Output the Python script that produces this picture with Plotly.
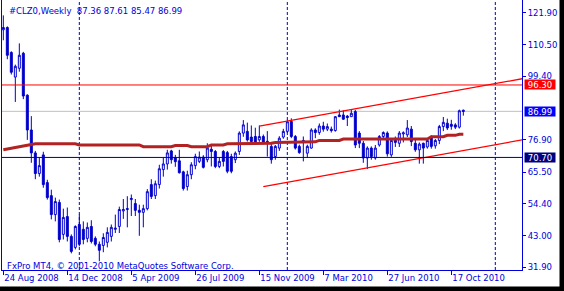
import plotly.graph_objects as go
import pandas as pd

symbol = "#CLZ0,Weekly"
first_week = "2008-08-24"

opens = [115.8, 116.6, 107.8, 99.1, 102.2, 107.5, 92.7, 80.4, 72.3, 65.0,
         71.6, 61.8, 57.2, 50.5, 54.8, 43.5, 49.8, 42.8, 38.9, 47.0,
         45.3, 42.1, 46.3, 42.1, 40.0, 39.6, 40.7, 42.8, 45.3, 46.3,
         51.8, 52.3, 55.8, 54.4, 52.0, 51.3, 52.6, 61.1, 57.2, 61.1,
         66.4, 68.4, 73.0, 70.6, 69.5, 65.6, 60.4, 64.6, 67.8, 69.3,
         70.8, 69.9, 73.6, 72.8, 67.5, 72.8, 72.4, 71.0, 69.9, 72.8,
         79.3, 79.9, 77.9, 78.1, 76.9, 78.1, 76.4, 74.6, 71.0, 74.0,
         77.9, 79.9, 83.4, 78.1, 74.6, 76.7, 72.2, 74.0, 80.4, 79.5,
         81.8, 80.7, 80.7, 80.2, 85.7, 85.7, 85.3, 85.1, 86.9, 79.3,
         75.7, 70.5, 74.0, 70.5, 75.1, 78.1, 79.3, 71.6, 77.0, 75.7,
         79.0, 78.7, 80.7, 75.7, 73.4, 75.7, 74.4, 77.9, 74.8, 76.7,
         81.6, 82.8, 82.4, 82.2, 81.4, 87.36]
highs = [120.9, 117.0, 108.2, 103.5, 111.0, 108.0, 93.0, 85.3, 73.0, 70.6,
         72.7, 62.8, 59.3, 56.5, 55.8, 52.6, 53.0, 43.5, 46.7, 50.5,
         48.1, 47.7, 48.5, 42.8, 41.0, 43.9, 46.0, 47.0, 50.5, 53.3,
         56.0, 57.0, 57.6, 56.0, 54.0, 54.0, 59.5, 63.0, 62.5, 68.1,
         70.6, 73.4, 73.4, 71.6, 73.4, 66.0, 66.0, 69.0, 72.0, 72.8,
         71.5, 75.7, 75.1, 73.3, 70.5, 73.3, 73.0, 72.0, 72.8, 79.9,
         83.9, 83.0, 82.0, 81.2, 82.0, 78.8, 80.0, 76.0, 75.1, 78.2,
         80.8, 84.0, 84.5, 78.6, 75.2, 78.1, 75.2, 81.0, 81.0, 82.7,
         83.3, 82.7, 81.6, 85.3, 87.6, 87.3, 85.7, 87.5, 87.5, 80.0,
         76.5, 74.6, 74.6, 75.1, 78.6, 79.9, 79.9, 77.0, 78.1, 80.0,
         79.9, 83.9, 81.8, 77.0, 76.0, 75.9, 77.0, 78.5, 77.2, 82.2,
         85.0, 84.4, 84.0, 82.8, 87.6, 87.61]
lows = [112.1, 105.4, 100.0, 90.3, 101.0, 91.3, 76.9, 68.8, 63.0, 63.9,
        60.0, 55.8, 48.8, 48.1, 40.7, 41.7, 41.0, 36.8, 38.2, 39.3,
        40.0, 40.7, 40.3, 39.3, 34.0, 37.2, 38.9, 41.0, 44.0, 44.0,
        49.0, 46.0, 50.0, 50.0, 43.0, 46.0, 52.0, 56.0, 56.0, 59.7,
        63.9, 66.4, 68.5, 67.4, 65.0, 59.0, 59.0, 63.0, 66.5, 68.7,
        66.8, 69.0, 67.5, 66.9, 66.9, 67.5, 65.1, 65.1, 68.7, 71.6,
        78.0, 76.3, 75.7, 75.5, 76.2, 75.3, 71.0, 68.5, 69.9, 73.0,
        77.3, 79.3, 77.5, 73.5, 72.0, 69.3, 70.5, 73.8, 77.5, 78.7,
        79.8, 80.0, 79.5, 79.8, 85.0, 84.0, 81.8, 85.0, 74.0, 74.0,
        68.8, 66.6, 69.9, 69.9, 74.5, 76.9, 71.0, 70.9, 74.4, 74.4,
        76.0, 77.9, 74.7, 72.7, 68.5, 68.5, 73.8, 73.8, 73.8, 75.4,
        80.0, 80.4, 80.5, 80.7, 80.9, 85.47]
closes = [116.6, 106.8, 100.8, 102.9, 106.8, 92.4, 80.4, 72.3, 65.0, 67.8,
          61.1, 56.5, 50.5, 55.1, 41.7, 49.5, 42.8, 37.5, 46.3, 40.0,
          41.7, 46.0, 41.0, 40.0, 37.9, 42.4, 44.2, 46.0, 45.7, 52.3,
          52.3, 52.6, 56.2, 52.0, 51.3, 52.6, 58.6, 56.9, 61.4, 66.7,
          68.4, 72.3, 69.9, 69.2, 65.3, 59.7, 64.6, 68.1, 71.0, 70.8,
          67.2, 74.0, 72.8, 67.5, 69.3, 69.3, 65.8, 65.8, 72.2, 79.3,
          82.2, 76.9, 76.3, 75.7, 78.1, 75.7, 75.8, 69.9, 74.6, 77.5,
          79.9, 83.3, 78.1, 74.0, 72.4, 76.0, 74.6, 80.4, 79.5, 81.8,
          80.7, 81.6, 80.2, 85.1, 85.1, 84.2, 84.8, 86.3, 75.1, 75.7,
          70.5, 74.0, 71.0, 74.0, 78.1, 79.5, 72.0, 76.7, 76.0, 79.3,
          79.4, 81.1, 76.3, 73.4, 75.4, 74.0, 76.7, 74.6, 76.7, 81.6,
          83.1, 81.1, 81.7, 81.4, 87.2, 86.99]
moving_avg = [73.4, 73.7, 74.0, 74.3, 74.6, 74.9, 75.1, 75.3, 75.5, 75.5,
              75.5, 75.5, 75.5, 75.5, 75.5, 75.5, 75.5, 75.5, 75.5, 75.1,
              75.1, 75.1, 75.1, 75.1, 75.1, 75.1, 75.1, 75.1, 75.1, 75.1,
              75.1, 75.1, 75.1, 75.1, 75.1, 74.5, 74.5, 74.5, 74.5, 74.5,
              74.5, 74.5, 74.5, 74.9, 74.9, 74.9, 74.9, 74.5, 74.5, 74.5,
              74.5, 74.5, 75.1, 75.1, 75.1, 75.1, 75.5, 75.5, 75.5, 75.5,
              75.5, 75.5, 75.7, 75.7, 75.7, 75.7, 75.7, 75.7, 76.0, 76.0,
              76.0, 76.2, 76.2, 76.2, 76.2, 76.2, 76.2, 76.2, 76.2, 76.7,
              76.7, 76.7, 76.7, 76.7, 76.7, 77.2, 77.2, 77.2, 77.2, 77.2,
              77.2, 77.2, 77.2, 77.2, 77.2, 77.2, 77.2, 77.2, 77.2, 77.2,
              77.2, 77.2, 77.2, 77.2, 77.2, 77.2, 77.2, 78.0, 78.0, 78.0,
              78.0, 78.5, 78.5, 78.5, 78.9, 78.9]

price_ticks = [121.90, 110.50, 99.40, 76.90, 65.50, 54.40, 43.00, 31.90]
levels = [96.30, 86.99, 70.70]
level_line_colors = ["#FF0000", "#C0C0C0", "#000080"]
level_box_colors = ["#FF0000", "#0000FF", "#000080"]
year_starts = [19, 71, 123]
upper_channel_x = [64, 129.7]
upper_channel_y = [81.8, 98.5]
lower_channel_x = [65, 129.7]
lower_channel_y = [60.4, 76.9]
copyright_text = "FxPro MT4, © 2001-2010 MetaQuotes Software Corp."

BLUE = "#0000DD"
CANDLE = "#0000CC"
FONT = "DejaVu Sans"

n = len(opens)
idx = list(range(n))
dates = pd.date_range(first_week, periods=n, freq="7D")
tick_idx = list(range(0, n, 16))
tick_labels = [f"{dates[i].day} {dates[i].strftime('%b %Y')}" for i in tick_idx]

W, H = 564, 291
ML, MR, MT, MB = 2, 42, 0, 21
PW, PH = W - ML - MR, H - MT - MB

fig = go.Figure()
fig.add_trace(go.Candlestick(
    x=idx, open=opens, high=highs, low=lows, close=closes,
    increasing=dict(line=dict(color=CANDLE, width=1), fillcolor="white"),
    decreasing=dict(line=dict(color=CANDLE, width=1), fillcolor=CANDLE),
    whiskerwidth=0, showlegend=False, hoverinfo="skip"))
fig.add_trace(go.Scatter(x=idx, y=moving_avg, mode="lines",
                         line=dict(color="#B22222", width=3), showlegend=False, hoverinfo="skip"))
fig.add_trace(go.Scatter(x=upper_channel_x, y=upper_channel_y, mode="lines",
                         line=dict(color="#FF0000", width=1.3), showlegend=False, hoverinfo="skip"))
fig.add_trace(go.Scatter(x=lower_channel_x, y=lower_channel_y, mode="lines",
                         line=dict(color="#FF0000", width=1.3), showlegend=False, hoverinfo="skip"))

shapes = []
for ys in year_starts:
    shapes.append(dict(type="line", xref="x", yref="paper", x0=ys, x1=ys, y0=0, y1=1,
                       line=dict(color="#0000CC", width=1, dash="3px,2px"), layer="below"))
for lv, lc in zip(levels, level_line_colors):
    shapes.append(dict(type="line", xref="paper", yref="y", x0=0, x1=1, y0=lv, y1=lv,
                       line=dict(color=lc, width=1), layer="below" if lc == "#C0C0C0" else "above"))
# black screen border at right and bottom
shapes.append(dict(type="rect", xref="paper", yref="paper",
                   x0=(559.5 - ML) / PW, x1=(W + 10 - ML) / PW, y0=-0.2, y1=1.1,
                   fillcolor="black", line=dict(width=0), layer="above"))
shapes.append(dict(type="rect", xref="paper", yref="paper",
                   x0=-0.1, x1=1.2, y0=(PH - 286.5) / PH, y1=-0.2,
                   fillcolor="black", line=dict(width=0), layer="above"))

annotations = []
for lv, bc in zip(levels, level_box_colors):
    annotations.append(dict(xref="paper", yref="y", x=1, y=lv, xanchor="left", yanchor="middle",
                            xshift=2, text=f"{lv:.2f}", showarrow=False, bgcolor=bc,
                            font=dict(family=FONT, size=8.5, color="white"),
                            borderpad=0, width=30, height=9))
annotations.append(dict(xref="paper", yref="paper", x=(7 - ML) / PW, y=(PH - 11) / PH,
                        xanchor="left", yanchor="middle", showarrow=False,
                        text=f"{symbol}  {opens[-1]:.2f} {highs[-1]:.2f} {lows[-1]:.2f} {closes[-1]:.2f}",
                        font=dict(family=FONT, size=8.5, color=BLUE)))
annotations.append(dict(xref="paper", yref="paper", x=(5 - ML) / PW, y=(PH - 265.5) / PH,
                        xanchor="left", yanchor="middle", showarrow=False, text=copyright_text,
                        font=dict(family=FONT, size=8.5, color=BLUE)))

fig.update_layout(
    width=W, height=H, margin=dict(l=ML, r=MR, t=MT, b=MB, pad=0),
    paper_bgcolor="white", plot_bgcolor="white", showlegend=False,
    shapes=shapes, annotations=annotations,
    xaxis=dict(range=[-0.33, 129.67], tickmode="array", tickvals=tick_idx, ticktext=tick_labels,
               ticks="outside", ticklen=4, tickcolor=BLUE, showline=True, linecolor=BLUE,
               linewidth=1, showgrid=False, zeroline=False, rangeslider=dict(visible=False),
               ticklabelposition="outside right",
               tickfont=dict(family=FONT, size=8.5, color=BLUE)),
    yaxis=dict(side="right", range=[30.92, 126.33], tickmode="array", tickvals=price_ticks,
               tickformat=".2f", ticks="outside", ticklen=3, tickcolor=BLUE,
               showline=True, mirror=True, linecolor=BLUE, linewidth=1,
               showgrid=False, zeroline=False,
               tickfont=dict(family=FONT, size=8.5, color=BLUE)),
)

fig.write_html("out.html")
